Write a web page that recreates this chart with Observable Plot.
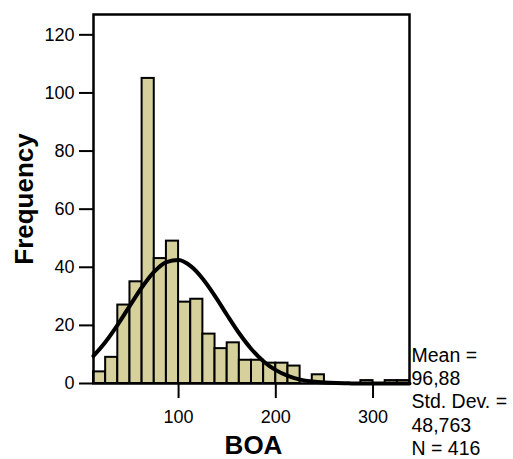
<!DOCTYPE html>
<html><head><meta charset="utf-8">
<script src="https://cdn.jsdelivr.net/npm/d3@7"></script>
<script src="https://cdn.jsdelivr.net/npm/@observablehq/plot@0.6"></script>
<style>body{margin:0;background:#fff;}</style>
</head><body><div id="chart"></div>
<script>
// Histogram bins (BOA)
const binStart = [12.5, 25, 37.5, 50, 62.5, 75, 87.5, 100, 112.5, 125, 137.5, 150, 162.5, 175, 187.5, 200, 212.5, 225, 237.5, 250, 262.5, 275, 287.5, 300, 312.5, 325];
const binEnd   = [25, 37.5, 50, 62.5, 75, 87.5, 100, 112.5, 125, 137.5, 150, 162.5, 175, 187.5, 200, 212.5, 225, 237.5, 250, 262.5, 275, 287.5, 300, 312.5, 325, 337.5];
const counts   = [4, 9, 27, 35, 105, 43, 49, 28, 29, 17, 12, 14, 8, 8, 7, 7, 6, 0, 3, 0, 0, 0, 1, 0, 1, 1];

// Fitted normal curve
const curveX = [12.5, 25, 37.5, 50, 62.5, 75, 87.5, 100, 112.5, 125, 137.5, 150, 162.5, 175, 187.5, 200, 212.5, 225, 237.5, 250, 262.5, 275, 287.5, 300, 312.5, 325, 337.5];
const curveY = [9.5, 14.4, 20.3, 26.8, 33.2, 38.5, 41.8, 42.5, 40.4, 36.0, 30.1, 23.5, 17.2, 11.8, 7.6, 4.6, 2.6, 1.35, 0.67, 0.31, 0.13, 0.05, 0.02, 0.01, 0, 0, 0];

const yTicks = [0, 20, 40, 60, 80, 100, 120];
const xTicks = [100, 200, 300];
const statLines = ["Mean =", "96,88", "Std. Dev. =", "48,763", "N = 416"];
const xLabel = "BOA";
const yLabel = "Frequency";

const bins = binStart.map((s, i) => ({x1: s, x2: binEnd[i], y: counts[i]}));
const curve = curveX.map((x, i) => ({x, y: curveY[i]}));

const chart = Plot.plot({
  width: 513, height: 459,
  marginLeft: 93, marginRight: 104, marginTop: 14, marginBottom: 76,
  style: {fontFamily: "'Liberation Sans', Arial, sans-serif", color: "black", background: "white", overflow: "visible"},
  x: {domain: [12.5, 337.5]},
  y: {domain: [0, 127]},
  marks: [
    Plot.rectY(bins, {x1: "x1", x2: "x2", y: "y", fill: "#d5d09c", stroke: "black", strokeWidth: 2}),
    Plot.line(curve, {x: "x", y: "y", stroke: "black", strokeWidth: 4, curve: "monotone-x"}),
    Plot.frame({stroke: "black", strokeWidth: 2.5}),
    Plot.axisY({ticks: yTicks, tickSize: 14, tickPadding: 5, strokeWidth: 2, fontSize: 18, label: null}),
    Plot.axisX({ticks: xTicks, tickSize: 15, tickPadding: 12, strokeWidth: 2, fontSize: 18, label: null}),
    Plot.text([xLabel], {text: d => d, frameAnchor: "bottom", textAnchor: "middle", lineAnchor: "middle", dx: 2, dy: 62, fontSize: 26, fontWeight: "bold"}),
    Plot.text([yLabel], {text: d => d, frameAnchor: "left", textAnchor: "middle", lineAnchor: "middle", rotate: -90, dx: -69, fontSize: 26, fontWeight: "bold"}),
    Plot.text([statLines.join("\n")], {text: d => d, frameAnchor: "bottom-right", textAnchor: "start", lineAnchor: "top", dx: 2, dy: -38, fontSize: 19.5, lineHeight: 1.19})
  ]
});
document.getElementById("chart").appendChild(chart);
</script>
</body></html>
